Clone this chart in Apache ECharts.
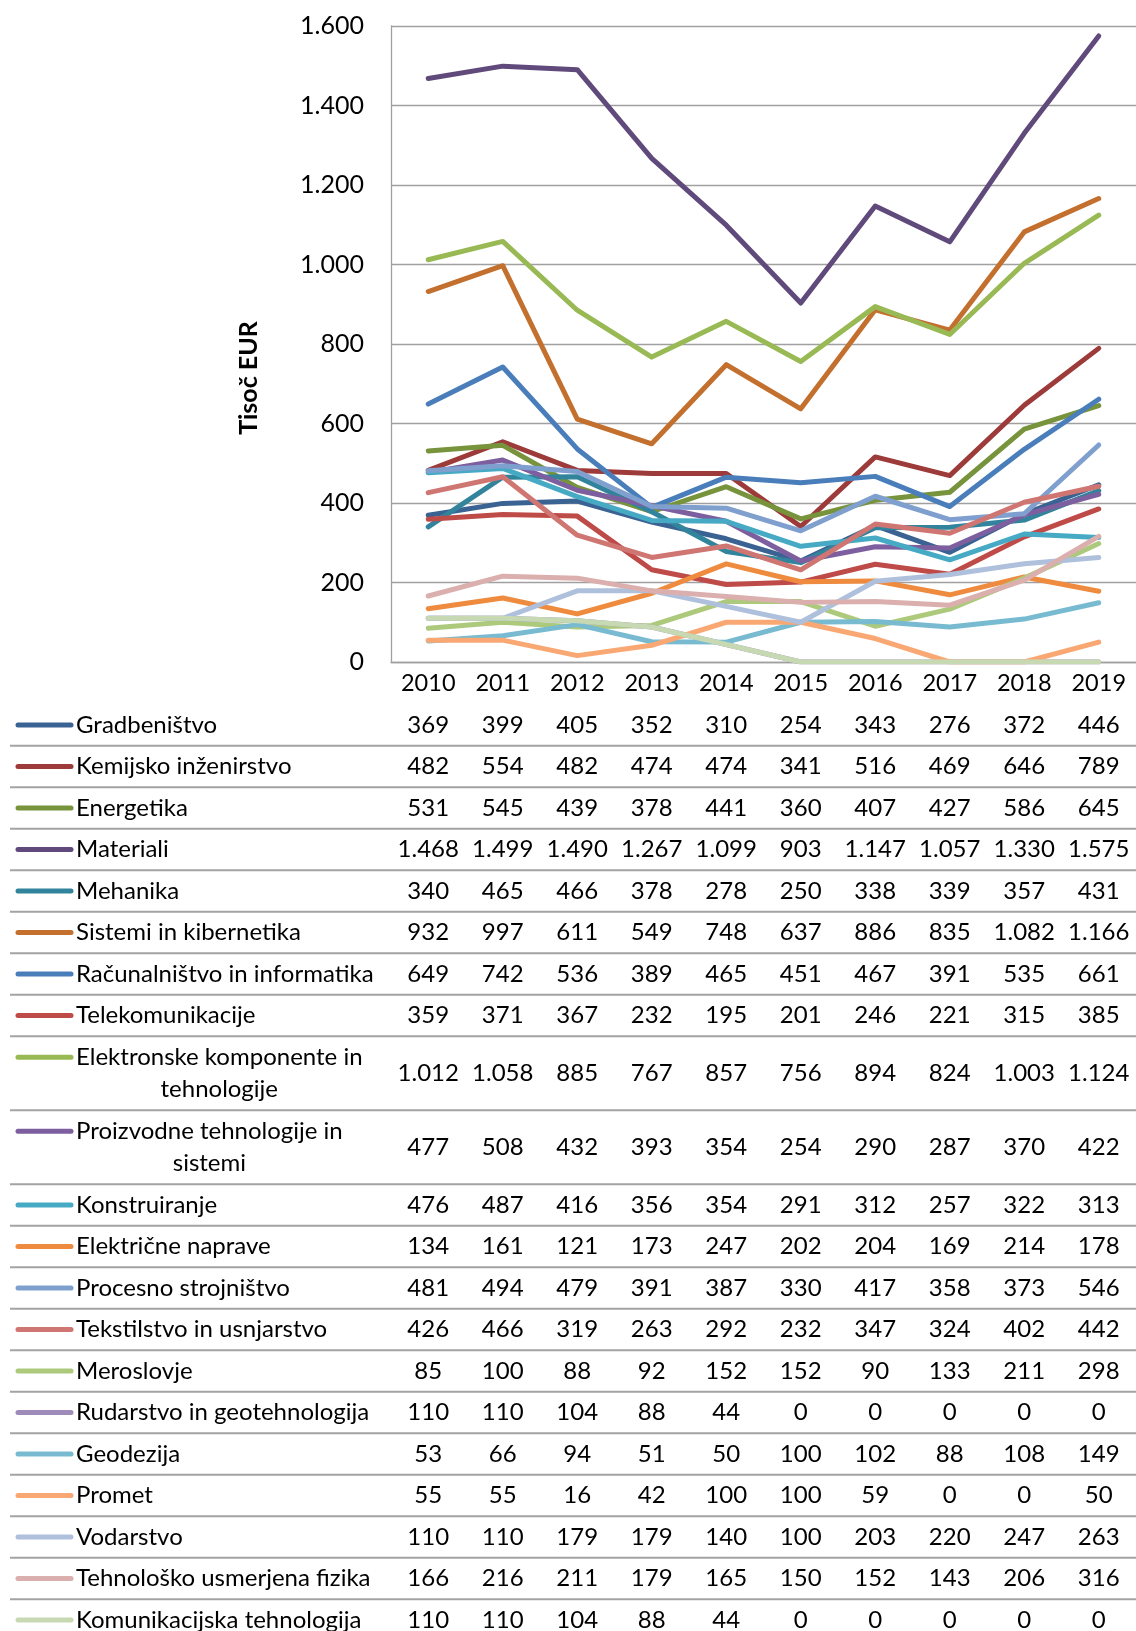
<!DOCTYPE html>
<html>
<head>
<meta charset="utf-8">
<script src="https://cdn.jsdelivr.net/npm/echarts@6/dist/echarts.min.js"></script>
<style>
  html, body { margin: 0; padding: 0; background: #fff; }
  #chart { width: 1136px; height: 1631px; }
</style>
</head>
<body>
<div id="chart"></div>
<script>
const years = ['2010', '2011', '2012', '2013', '2014', '2015', '2016', '2017', '2018', '2019'];

const gradbenistvo   = [369, 399, 405, 352, 310, 254, 343, 276, 372, 446];
const kemijsko       = [482, 554, 482, 474, 474, 341, 516, 469, 646, 789];
const energetika     = [531, 545, 439, 378, 441, 360, 407, 427, 586, 645];
const materiali      = [1468, 1499, 1490, 1267, 1099, 903, 1147, 1057, 1330, 1575];
const mehanika       = [340, 465, 466, 378, 278, 250, 338, 339, 357, 431];
const sistemi        = [932, 997, 611, 549, 748, 637, 886, 835, 1082, 1166];
const racunalnistvo  = [649, 742, 536, 389, 465, 451, 467, 391, 535, 661];
const telekom        = [359, 371, 367, 232, 195, 201, 246, 221, 315, 385];
const elektronske    = [1012, 1058, 885, 767, 857, 756, 894, 824, 1003, 1124];
const proizvodne     = [477, 508, 432, 393, 354, 254, 290, 287, 370, 422];
const konstruiranje  = [476, 487, 416, 356, 354, 291, 312, 257, 322, 313];
const elektricne     = [134, 161, 121, 173, 247, 202, 204, 169, 214, 178];
const procesno       = [481, 494, 479, 391, 387, 330, 417, 358, 373, 546];
const tekstilstvo    = [426, 466, 319, 263, 292, 232, 347, 324, 402, 442];
const meroslovje     = [85, 100, 88, 92, 152, 152, 90, 133, 211, 298];
const rudarstvo      = [110, 110, 104, 88, 44, 0, 0, 0, 0, 0];
const geodezija      = [53, 66, 94, 51, 50, 100, 102, 88, 108, 149];
const promet         = [55, 55, 16, 42, 100, 100, 59, 0, 0, 50];
const vodarstvo      = [110, 110, 179, 179, 140, 100, 203, 220, 247, 263];
const fizika         = [166, 216, 211, 179, 165, 150, 152, 143, 206, 316];
const komunikacijska = [110, 110, 104, 88, 44, 0, 0, 0, 0, 0];

const seriesNames = [
  'Gradbeništvo', 'Kemijsko inženirstvo', 'Energetika', 'Materiali', 'Mehanika',
  'Sistemi in kibernetika', 'Računalništvo in informatika', 'Telekomunikacije',
  'Elektronske komponente in tehnologije', 'Proizvodne tehnologije in sistemi',
  'Konstruiranje', 'Električne naprave', 'Procesno strojništvo', 'Tekstilstvo in usnjarstvo',
  'Meroslovje', 'Rudarstvo in geotehnologija', 'Geodezija', 'Promet', 'Vodarstvo',
  'Tehnološko usmerjena fizika', 'Komunikacijska tehnologija'
];
const seriesData = [
  gradbenistvo, kemijsko, energetika, materiali, mehanika, sistemi, racunalnistvo, telekom,
  elektronske, proizvodne, konstruiranje, elektricne, procesno, tekstilstvo, meroslovje,
  rudarstvo, geodezija, promet, vodarstvo, fizika, komunikacijska
];

const colors = [
  '#3a6293', '#9c3b39', '#77933c', '#604a7b', '#31849b', '#c3702f', '#4a7ebb', '#be4b48',
  '#98b954', '#7d5fa0', '#46aac5', '#ef8b3e', '#7f9fcf', '#cf7673', '#adc97c', '#9e8bba',
  '#78bbd1', '#f9a873', '#aec0dc', '#daafae', '#c6d9b3'
];

const FONT = 'Lato';
const TFONT = '24px ' + FONT;
const fmt = v => String(v).replace(/\B(?=(\d{3})+(?!\d))/g, '.');

const chart = echarts.init(document.getElementById('chart'));

chart.setOption({
  animation: false,
  grid: { left: 391, top: 26, width: 745, height: 636 },
  xAxis: {
    type: 'category',
    data: years,
    axisLine: { lineStyle: { color: '#a0a0a0', width: 1.3 } },
    axisTick: { show: false },
    axisLabel: { color: '#000', fontFamily: FONT, fontSize: 23.5, margin: 9 }
  },
  yAxis: {
    type: 'value',
    min: 0,
    max: 1600,
    interval: 200,
    axisLine: { show: true, lineStyle: { color: '#a0a0a0', width: 1.3 } },
    axisTick: { show: false },
    splitLine: { lineStyle: { color: '#a0a0a0', width: 1.3 } },
    axisLabel: { formatter: fmt, color: '#000', fontFamily: FONT, fontSize: 25, margin: 27 }
  },
  series: seriesNames.map((name, i) => ({
    type: 'line',
    name: name,
    data: seriesData[i],
    symbol: 'none',
    itemStyle: { color: colors[i] },
    lineStyle: { color: colors[i], width: 5, cap: 'round', join: 'round' }
  }))
});

// data table under the plot
const ctx = document.createElement('canvas').getContext('2d');
ctx.font = TFONT;

function wrap(text, maxW) {
  const words = text.split(' ');
  const lines = [];
  let cur = '';
  words.forEach(w => {
    const t = cur ? cur + ' ' + w : w;
    if (cur && ctx.measureText(t).width > maxW) {
      lines.push(cur);
      cur = w;
    } else {
      cur = t;
    }
  });
  lines.push(cur);
  return lines;
}

const els = [];
const txt = (x, y, s, align) => ({
  type: 'text', x: x, y: y, silent: true,
  style: { text: s, font: TFONT, fill: '#000', align: align, verticalAlign: 'middle' }
});

let y = 704.3;
seriesNames.forEach((name, i) => {
  const lines = wrap(name, 320);
  const h = lines.length > 1 ? 74 : 41.5;
  const mid = y + h / 2;
  const firstY = lines.length > 1 ? mid - 16 : mid;

  els.push({
    type: 'line', silent: true,
    shape: { x1: 18, y1: firstY, x2: 71, y2: firstY },
    style: { stroke: colors[i], lineWidth: 5, lineCap: 'round' }
  });

  const w0 = ctx.measureText(lines[0]).width;
  lines.forEach((ln, k) => {
    if (k === 0) els.push(txt(76, firstY, ln, 'left'));
    else els.push(txt(76 + w0 / 2, firstY + 32 * k, ln, 'center'));
  });

  seriesData[i].forEach((v, j) => {
    const px = chart.convertToPixel({ xAxisIndex: 0 }, years[j]);
    els.push(txt(px, mid, fmt(v), 'center'));
  });

  els.push({
    type: 'line', silent: true,
    shape: { x1: 10, y1: y + h, x2: 1136, y2: y + h },
    style: { stroke: '#a3a3a3', lineWidth: 2 }
  });
  y += h;
});

els.push({
  type: 'text', x: 249, y: 378, rotation: Math.PI / 2, silent: true,
  style: { text: 'Tisoč EUR', font: 'bold 25px ' + FONT, fill: '#000', align: 'center', verticalAlign: 'middle' }
});

chart.setOption({ graphic: { elements: els } });
</script>
</body>
</html>
